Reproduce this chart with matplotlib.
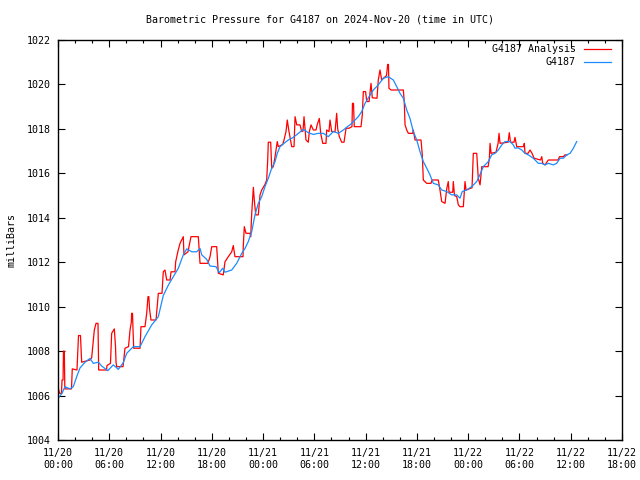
import matplotlib
matplotlib.use("Agg")
import matplotlib.pyplot as plt
from matplotlib.ticker import MultipleLocator

# ---- data (hours since 2024-11-20 00:00 UTC, pressure in mb) ----
analysis_hours = [0.04, 0.18, 0.41, 0.47, 0.59, 0.64, 0.74, 0.80, 1.58, 1.67, 2.22, 2.40, 2.63, 2.77,
    3.74, 3.94, 4.25, 4.45, 4.68, 4.76, 5.68, 5.73, 6.14, 6.28, 6.59, 6.73, 6.79, 6.87, 7.61, 7.78,
    7.84, 8.25, 8.43, 8.58, 8.62, 8.72, 8.78, 8.86, 9.60, 9.71, 10.18, 10.38, 10.53, 10.63, 10.71,
    10.88, 11.47, 11.74, 12.17, 12.32, 12.52, 12.72, 13.11, 13.23, 13.69, 13.77, 14.04, 14.28, 14.66,
    14.74, 15.21, 15.56, 16.42, 16.62, 16.79, 17.55, 17.79, 17.99, 18.57, 18.76, 19.34, 19.54, 19.93,
    20.33, 20.51, 20.71, 21.65, 21.68, 21.80, 22.00, 22.47, 22.55, 22.67, 22.86, 22.97, 23.14, 23.44,
    23.64, 23.84, 24.22, 24.42, 24.54, 24.61, 24.89, 25.01, 25.20, 25.40, 25.66, 25.78, 26.30, 26.45,
    26.68, 26.83, 27.03, 27.35, 27.62, 27.74, 27.94, 28.32, 28.52, 28.67, 28.79, 28.91, 29.02, 29.29,
    29.41, 29.61, 29.88, 30.19, 30.34, 30.58, 30.74, 30.98, 31.36, 31.44, 31.71, 31.83, 32.03, 32.42,
    32.61, 32.73, 32.92, 33.20, 33.47, 33.71, 34.06, 34.40, 34.46, 34.58, 34.67, 35.46, 35.61, 35.73,
    35.99, 36.13, 36.40, 36.52, 36.63, 36.78, 37.33, 37.48, 37.68, 37.88, 38.15, 38.44, 38.58, 38.67,
    38.73, 38.97, 40.02, 40.41, 40.52, 40.61, 40.81, 41.00, 41.51, 41.58, 41.78, 42.48, 42.63, 42.75,
    43.15, 43.65, 43.77, 44.50, 44.70, 44.90, 45.29, 45.49, 45.67, 45.76, 46.19, 46.26, 46.40, 46.66,
    46.85, 47.04, 47.43, 47.55, 47.63, 47.75, 48.45, 48.60, 49.00, 49.18, 49.39, 49.59, 50.33, 50.48,
    50.56, 50.68, 51.26, 51.50, 51.61, 51.73, 52.67, 52.81, 52.95, 53.36, 53.48, 53.68, 54.48, 54.57,
    54.65, 55.00, 55.24, 55.47, 55.71, 56.46, 56.61, 56.72, 56.99, 57.38, 58.51, 58.69, 59.13, 59.33,
    59.57]
analysis_mb = [1006.33, 1006.1, 1006.1, 1006.7, 1006.7, 1008.0, 1008.0, 1006.3, 1006.3, 1007.2, 1007.15,
    1008.7, 1008.7, 1007.5, 1007.6, 1007.7, 1008.95, 1009.25, 1009.25, 1007.15, 1007.15, 1007.35,
    1007.45, 1008.8, 1009.0, 1008.2, 1007.5, 1007.3, 1007.3, 1007.9, 1008.13, 1008.2, 1008.95, 1009.3,
    1009.7, 1009.7, 1008.95, 1008.13, 1008.13, 1009.1, 1009.1, 1009.7, 1010.45, 1010.45, 1009.9,
    1009.4, 1009.4, 1010.6, 1010.6, 1011.57, 1011.65, 1011.2, 1011.2, 1011.57, 1011.57, 1012.02,
    1012.5, 1012.85, 1013.15, 1012.33, 1012.47, 1013.15, 1013.15, 1011.95, 1011.95, 1011.95, 1012.25,
    1012.7, 1012.7, 1011.5, 1011.43, 1012.02, 1012.25, 1012.47, 1012.75, 1012.25, 1012.25, 1012.7,
    1013.6, 1013.3, 1013.3, 1013.15, 1014.2, 1015.37, 1014.8, 1014.13, 1014.13, 1015.03, 1015.25,
    1015.5, 1015.7, 1016.6, 1017.4, 1017.4, 1016.23, 1016.3, 1016.75, 1017.43, 1017.2, 1017.3, 1017.5,
    1017.88, 1018.4, 1017.88, 1017.2, 1017.2, 1018.55, 1018.18, 1018.18, 1017.88, 1017.9, 1018.55,
    1018.0, 1017.5, 1017.4, 1017.88, 1018.18, 1017.95, 1017.95, 1018.2, 1018.47, 1017.8, 1017.35,
    1017.35, 1017.95, 1017.88, 1018.4, 1017.88, 1017.88, 1018.7, 1018.0, 1017.65, 1017.4, 1017.4,
    1018.03, 1018.03, 1018.1, 1019.15, 1019.15, 1018.1, 1018.1, 1018.63, 1019.68, 1019.68, 1019.23,
    1019.23, 1019.68, 1020.05, 1019.4, 1019.38, 1020.2, 1020.65, 1020.2, 1020.3, 1020.4, 1020.9,
    1020.9, 1019.83, 1019.75, 1019.75, 1019.75, 1019.23, 1018.18, 1017.95, 1017.8, 1017.8, 1017.95,
    1017.5, 1017.5, 1016.83, 1015.7, 1015.55, 1015.55, 1015.7, 1015.7, 1015.25, 1014.73, 1014.65,
    1015.3, 1015.63, 1015.15, 1015.15, 1015.63, 1015.0, 1014.95, 1014.58, 1014.5, 1014.5, 1015.15,
    1015.63, 1015.25, 1015.35, 1016.9, 1016.9, 1015.78, 1015.48, 1016.3, 1016.3, 1016.68, 1017.35,
    1016.9, 1016.95, 1017.35, 1017.8, 1017.35, 1017.4, 1017.83, 1017.4, 1017.4, 1017.62, 1017.2,
    1017.2, 1017.35, 1016.9, 1016.9, 1017.05, 1016.9, 1016.68, 1016.6, 1016.75, 1016.45, 1016.38,
    1016.6, 1016.6, 1016.75, 1016.75, 1016.83, 1016.83]

obs_hours = [0.06, 0.47, 0.82, 1.40, 1.79, 2.19, 2.57, 3.16, 3.74, 4.13, 4.72, 5.11, 5.82, 6.47, 7.06,
    7.64, 8.04, 8.81, 9.60, 10.18, 10.97, 11.74, 12.32, 12.91, 13.49, 14.08, 14.66, 15.06, 15.65,
    16.23, 16.62, 16.82, 17.20, 17.40, 17.79, 18.49, 18.88, 19.27, 19.54, 20.33, 20.91, 21.50, 21.88,
    22.27, 22.67, 23.05, 23.44, 23.84, 24.22, 24.61, 25.01, 25.40, 25.66, 25.98, 26.45, 26.95, 27.54,
    28.12, 28.71, 29.29, 29.88, 30.46, 31.05, 31.63, 32.22, 32.80, 33.39, 33.97, 34.17, 34.76, 35.14,
    35.54, 35.93, 36.40, 36.90, 37.48, 38.07, 38.65, 39.24, 39.64, 40.02, 40.41, 40.81, 41.19, 41.58,
    41.98, 42.36, 42.75, 43.15, 43.53, 43.92, 44.50, 44.90, 45.49, 46.07, 46.66, 47.04, 47.31, 47.83,
    48.41, 49.00, 49.39, 49.77, 50.36, 50.75, 51.14, 51.53, 51.93, 52.31, 52.90, 53.28, 53.48, 53.83,
    54.27, 54.65, 55.04, 55.62, 56.21, 56.60, 56.99, 57.38, 57.96, 58.36, 58.75, 59.13, 59.53, 59.92,
    60.31, 60.70]
obs_mb = [1005.9, 1006.1, 1006.4, 1006.3, 1006.4, 1006.85, 1007.24, 1007.5, 1007.67, 1007.45, 1007.5,
    1007.33, 1007.12, 1007.38, 1007.18, 1007.48, 1007.9, 1008.2, 1008.2, 1008.65, 1009.18, 1009.55,
    1010.5, 1010.97, 1011.35, 1011.73, 1012.33, 1012.6, 1012.47, 1012.47, 1012.62, 1012.33, 1012.2,
    1012.13, 1011.83, 1011.8, 1011.53, 1011.73, 1011.55, 1011.65, 1011.95, 1012.4, 1012.62, 1012.93,
    1013.38, 1014.13, 1014.65, 1014.95, 1015.4, 1015.78, 1016.23, 1016.53, 1016.9, 1017.2, 1017.35,
    1017.5, 1017.62, 1017.8, 1017.98, 1017.83, 1017.75, 1017.8, 1017.8, 1017.65, 1017.88, 1017.8,
    1017.95, 1018.13, 1018.18, 1018.4, 1018.55, 1018.78, 1019.15, 1019.45, 1019.75, 1019.98, 1020.28,
    1020.35, 1020.2, 1019.9, 1019.6, 1019.38, 1018.85, 1018.47, 1017.88, 1017.5, 1016.98, 1016.53,
    1016.23, 1015.93, 1015.55, 1015.48, 1015.25, 1015.18, 1015.03, 1015.03, 1014.88, 1015.18, 1015.25,
    1015.4, 1015.63, 1015.95, 1016.3, 1016.53, 1016.83, 1016.9, 1017.05, 1017.28, 1017.43, 1017.43,
    1017.28, 1017.13, 1017.15, 1017.05, 1016.9, 1016.83, 1016.68, 1016.45, 1016.45, 1016.38, 1016.45,
    1016.38, 1016.45, 1016.68, 1016.68, 1016.83, 1016.9, 1017.13, 1017.43]

tick_hours = [0, 6, 12, 18, 24, 30, 36, 42, 48, 54, 60, 66]
tick_labels = ["11/20\n00:00", "11/20\n06:00", "11/20\n12:00", "11/20\n18:00",
               "11/21\n00:00", "11/21\n06:00", "11/21\n12:00", "11/21\n18:00",
               "11/22\n00:00", "11/22\n06:00", "11/22\n12:00", "11/22\n18:00"]
y_ticks = [1004, 1006, 1008, 1010, 1012, 1014, 1016, 1018, 1020, 1022]

RED = "#ff0000"
BLUE = "#1a8cff"
FONT = "DejaVu Sans Mono"
FS = 7.2

plt.rcParams["font.family"] = FONT
fig = plt.figure(figsize=(6.4, 4.8), dpi=100)
ax = fig.add_axes([58/640, 40/480, 564/640, 400/480])

ax.plot(analysis_hours, analysis_mb, color=RED, lw=0.9)
ax.plot(obs_hours, obs_mb, color=BLUE, lw=0.9)

ax.set_xlim(0, 66)
ax.set_ylim(1004, 1022)
ax.set_xticks(tick_hours)
ax.set_xticklabels(tick_labels, fontsize=FS, linespacing=1.25)
ax.xaxis.set_minor_locator(MultipleLocator(2))
ax.set_yticks(y_ticks)
ax.set_yticklabels([str(v) for v in y_ticks], fontsize=FS)
ax.tick_params(which="major", direction="in", length=5, width=0.8, top=True, right=True, pad=6)
ax.tick_params(which="minor", direction="in", length=2.5, width=0.8, top=True, right=True)
ax.tick_params(axis="y", pad=5)
for s in ax.spines.values():
    s.set_linewidth(1.0)

fig.text(0.5, 1 - 20/480, "Barometric Pressure for G4187 on 2024-Nov-20 (time in UTC)",
         ha="center", va="center", fontsize=FS)
fig.text(12/640, 0.5, "milliBars", rotation=90, ha="center", va="center", fontsize=FS)

# legend (gnuplot style: right-justified text, then line sample)
legend_items = [("G4187 Analysis", RED), ("G4187", BLUE)]
for i, (lab, col) in enumerate(legend_items):
    yy = 1 - (9 + 13*i)/400
    ax.text((576-58)/564, yy, lab, transform=ax.transAxes, ha="right", va="center", fontsize=FS)
    ax.plot([(584-58)/564, (611-58)/564], [yy, yy], transform=ax.transAxes, color=col, lw=0.9,
            clip_on=False)

fig.savefig("out.png", dpi=100)
